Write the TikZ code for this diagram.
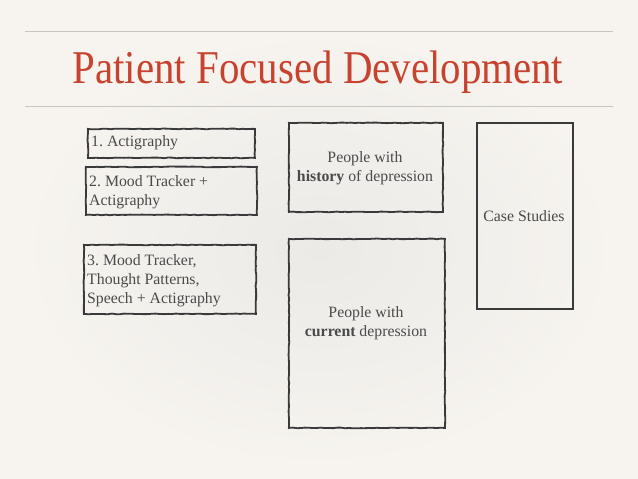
\documentclass[tikz,border=0pt]{standalone}
\usepackage{fontspec}
\setmainfont{Liberation Serif}
\newfontfamily\titlefont[FakeStretch=0.87]{Liberation Serif}
\usetikzlibrary{decorations.pathmorphing}
\frenchspacing
\definecolor{bgc}{HTML}{F7F4EF}
\definecolor{bgin}{HTML}{EBEAE7}
\definecolor{rulec}{HTML}{C9C6C1}
\definecolor{titlec}{HTML}{C8432F}
\definecolor{inkc}{HTML}{3A3A3A}
\definecolor{textc}{HTML}{4A4A4A}
\tikzset{
  x=1pt, y=-1pt,
  sketch/.style={draw=inkc, line width=1.8pt, decorate,
    decoration={random steps, segment length=4pt, amplitude=0.35pt}},
  txt/.style={font=\fontsize{15.8}{19}\selectfont, text=textc, align=center, inner sep=0pt},
}
\begin{document}
\begin{tikzpicture}
\useasboundingbox (0,0) rectangle (638,479);
\fill[bgc] (0,0) rectangle (638,479);
\shade[inner color=bgin, outer color=bgc] (20,30) rectangle (618,470);
\draw[rulec, line width=0.8pt] (25,31) -- (613,31);
\draw[rulec, line width=0.8pt] (25,106) -- (613,106);
\node[font=\titlefont\fontsize{47}{50}\selectfont, text=titlec, anchor=base, inner sep=0pt] (title) at (318,83) {Patient Focused Development};

% left boxes
\node[sketch, minimum width=167pt, minimum height=29pt, anchor=north west] (b1) at (87,128) {};
\node[txt, anchor=west] (t1) at (91,142.5) {1. Actigraphy};
\node[sketch, minimum width=171pt, minimum height=48pt, anchor=north west] (b2) at (85,166) {};
\node[txt, anchor=west, align=left] (t2) at (89,192) {2. Mood Tracker +\\Actigraphy};
\node[sketch, minimum width=172pt, minimum height=69pt, anchor=north west] (b3) at (83,244) {};
\node[txt, anchor=west, align=left] (t3) at (87,281) {3. Mood Tracker,\\Thought Patterns,\\Speech + Actigraphy};

% middle boxes
\node[sketch, minimum width=154pt, minimum height=89pt, anchor=north west] (hist) at (288,122) {};
\node[txt] (th) at (365,168) {People with\\\textbf{history} of depression};
\node[sketch, minimum width=156pt, minimum height=189pt, anchor=north west] (cur) at (288,238) {};
\node[txt] (tc) at (366,323) {People with\\\textbf{current} depression};

% right box
\node[draw=inkc, line width=2.4pt, minimum width=96pt, minimum height=186pt, anchor=north west] (cs) at (476,122) {};
\node[txt] (tcs) at (524,216) {Case Studies};
\end{tikzpicture}
\end{document}
